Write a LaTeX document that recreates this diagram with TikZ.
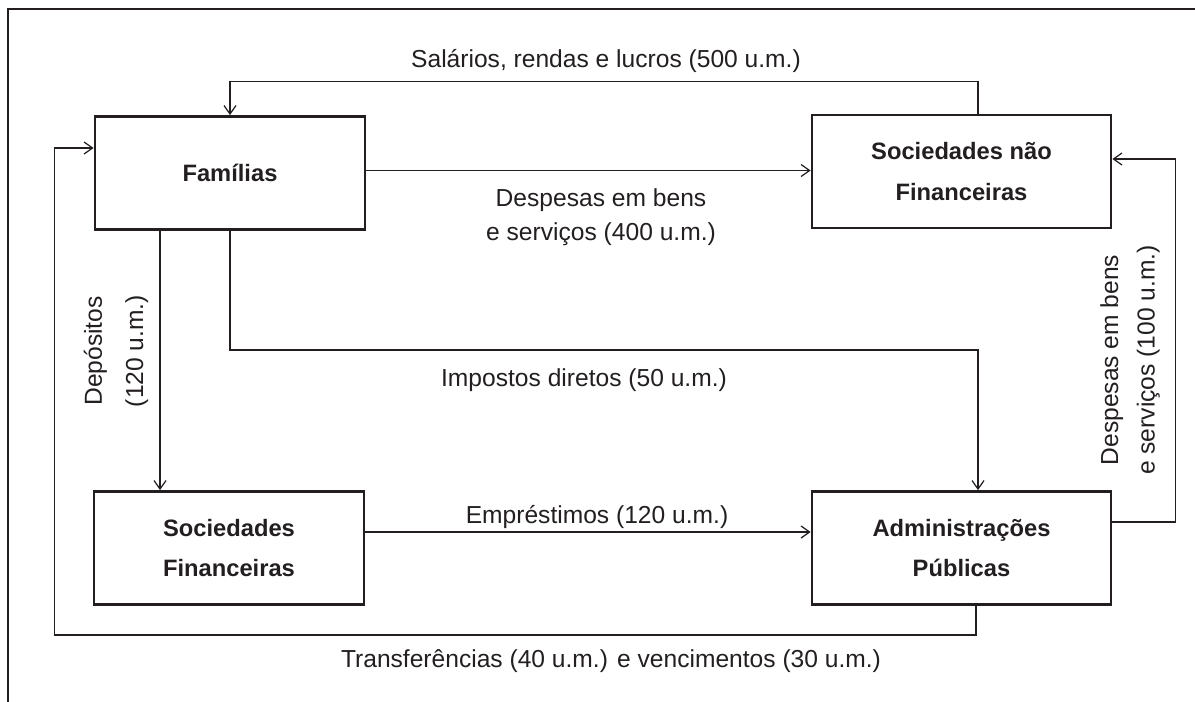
\documentclass[tikz,border=0pt]{standalone}
\usepackage{fontspec}
\setmainfont{Liberation Sans}
\usetikzlibrary{arrows.meta}
\definecolor{ink}{RGB}{35,31,32}
\tikzset{
  sector/.style={shape=rectangle,draw=ink,line width=1.6pt,minimum height=2.26cm,align=center,
    text=ink,font=\fontsize{13.5}{22.8}\selectfont\bfseries},
  flow/.style={draw=ink,line width=0.7pt,-{Straight Barb[length=0.17cm,width=0.24cm]}},
  lbl/.style={text=ink,align=center,inner sep=0pt,font=\fontsize{14}{19.4}\selectfont}
}
\begin{document}
\begin{tikzpicture}[x=0.02cm,y=-0.02cm]
\useasboundingbox (0,0) rectangle (1195,702);
\draw[draw=ink,line width=1.6pt] (8,702) -- (8,9) -- (1195,9);
\node[sector,minimum width=5.4cm] (fam) at (230,173) {Famílias};
\node[sector,minimum width=5.98cm] (snf) at (961.5,171.5) {Sociedades não\\Financeiras};
\node[sector,minimum width=5.4cm] (sf) at (229,548) {Sociedades\\Financeiras};
\node[sector,minimum width=5.98cm] (ap) at (961.5,548) {Administrações\\Públicas};
\draw[flow] ([xshift=0.33cm]snf.north) -- ++(0,-32) -| (fam.north);
\draw[flow] ([yshift=0.05cm]fam.east) -- ([yshift=0.05cm]fam.east -| snf.west);
\draw[flow] (fam.south) -- ++(0,119) -| ([xshift=0.33cm]ap.north);
\draw[flow] ([xshift=-1.4cm]fam.south) -- ([xshift=-1.4cm]fam.south |- sf.north);
\draw[flow] ([yshift=0.32cm]sf.east) -- ([yshift=0.32cm]sf.east -| ap.west);
\draw[flow] ([yshift=0.52cm]ap.east) -- ++(63,0) |- ([yshift=0.25cm]snf.east);
\draw[flow] ([xshift=0.29cm]ap.south) -- ++(0,29) -| ([xshift=-0.78cm,yshift=0.5cm]fam.west) -- ([yshift=0.5cm]fam.west);
\node[lbl] (salarios) at (606,61) {Salários, rendas e lucros (500 u.m.)};
\node[lbl] (despesas) at (601,217) {Despesas em bens\\e serviços (400 u.m.)};
\node[lbl] (impostos) at (584,380) {Impostos diretos (50 u.m.)};
\node[lbl,rotate=90,font=\fontsize{14}{23.5}\selectfont] (depositos) at (116,351) {Depósitos\\(120 u.m.)};
\node[lbl] (emprestimos) at (597,517) {Empréstimos (120 u.m.)};
\node[lbl,rotate=90,font=\fontsize{14}{20.7}\selectfont] (despesasap) at (1130,360) {Despesas em bens\\e serviços (100 u.m.)};
\node[lbl] (transferencias) at (611,661) {Transferências (40 u.m.) e vencimentos (30 u.m.)};
\end{tikzpicture}
\end{document}
